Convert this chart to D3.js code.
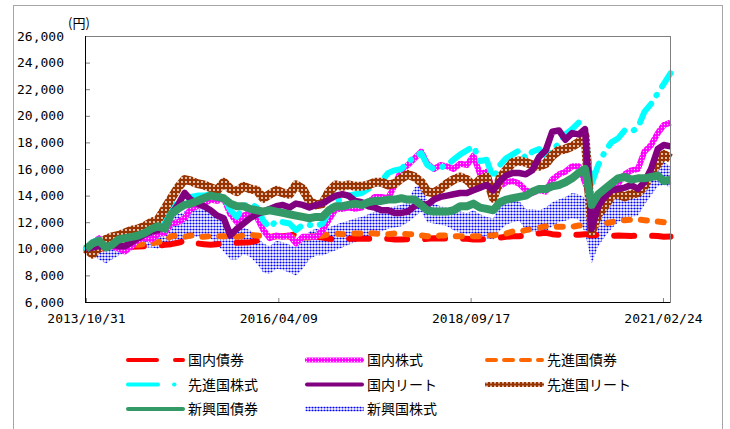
<!DOCTYPE html>
<html lang="ja">
<head>
<meta charset="UTF-8">
<title>基準価額の推移</title>
<style>
  body { margin: 0; background: #fff; }
  svg { display: block; }
  .axis text { font-family: "DejaVu Sans Mono", monospace; font-size: 13px; fill: #000; }
  .axis line { stroke: #808080; }
  .unit { font-family: "Noto Sans CJK JP", sans-serif; font-size: 13px; }
  .legend text { font-family: "Noto Sans CJK JP", sans-serif; font-size: 14px; fill: #000; }
</style>
</head>
<body>
<svg width="730" height="429"></svg>
<script src="https://d3js.org/d3.v7.min.js"></script>
<script>
// month-end values, 2013/10 .. 2021/03
const months = d3.range(90).map(i => new Date(2013, 10 + i, 0));
const xTickLabels = ["2013/10/31", "2016/04/09", "2018/09/17", "2021/02/24"];
const yTickValues = [6000, 8000, 10000, 12000, 14000, 16000, 18000, 20000, 22000, 24000, 26000];

// 国内債券
const jpBond = [10000, 10020, 10000, 10050, 10100, 10100, 10120, 10150, 10180, 10200, 10250, 10230,
  10300, 10350, 10450, 10600, 10400, 10400, 10350, 10300, 10350, 10400, 10400, 10450,
  10480, 10500, 10600, 10800, 10900, 10950, 10950, 11000, 11100, 11050, 10950, 10900,
  10850, 10750, 10700, 10700, 10750, 10750, 10750, 10750, 10750, 10750, 10750, 10700,
  10700, 10720, 10720, 10700, 10750, 10800, 10780, 10780, 10800, 10750, 10750, 10700,
  10700, 10750, 10800, 10850, 10900, 10950, 10950, 11000, 11100, 11150, 11200, 11100,
  11050, 11050, 11050, 11050, 11100, 11000, 11050, 11000, 10980, 11000, 10980, 10970,
  10980, 10980, 10980, 10960, 10900, 10920];
// 国内株式
const jpStock = [10000, 10400, 10800, 10300, 10200, 10000, 9800, 10200, 10700, 10800, 10700, 11100,
  11200, 11900, 12000, 12300, 13000, 13200, 13400, 13700, 13600, 13800, 12600, 12000,
  12500, 12700, 12400, 11400, 10800, 11000, 10900, 11000, 10400, 10900, 10900, 10900,
  11400, 12200, 13000, 13000, 13100, 13000, 13100, 13500, 13900, 13900, 13800, 14800,
  15900, 16300, 16800, 17300, 16400, 16000, 16300, 16200, 16000, 16400, 16300, 17000,
  15600, 15800, 14300, 14700, 15000, 15100, 14900, 14400, 14200, 14400, 14300, 15200,
  15600, 15800, 16200, 16200, 15000, 13400, 13900, 14400, 14900, 14900, 15600, 15900,
  16000, 17300, 17800, 18700, 19300, 19500];
// 先進国債券
const dmBond = [10000, 10150, 10200, 10150, 10200, 10250, 10250, 10300, 10300, 10350, 10400, 10500,
  10600, 10950, 11000, 10900, 11000, 10950, 10900, 10950, 10950, 10950, 10900, 10900,
  11000, 11050, 11000, 10950, 10900, 10950, 10950, 10900, 10800, 10850, 10850, 10900,
  11000, 11100, 11150, 11100, 11100, 11150, 11150, 11200, 11150, 11100, 11100, 11150,
  11150, 11100, 11100, 11000, 10950, 10900, 11000, 11000, 10950, 10950, 10950, 10950,
  10950, 11000, 11000, 11100, 11150, 11300, 11300, 11400, 11500, 11600, 11700, 11650,
  11650, 11650, 11650, 11750, 11800, 11700, 11800, 11900, 12000, 12100, 12150, 12200,
  12200, 12150, 12100, 12050, 12000, 11850];
// 先進国株式
const dmStock = [10000, 10500, 10700, 10400, 10600, 10800, 10900, 11200, 11400, 11500, 11600, 11900,
  12200, 13300, 13600, 13300, 13900, 14000, 14000, 14100, 14000, 13900, 12900, 12400,
  13200, 13400, 13100, 12100, 11600, 12100, 12000, 11900, 11400, 11800, 11800, 11700,
  11900, 12800, 13600, 13700, 14000, 14100, 14200, 14500, 14800, 15100, 15700, 15900,
  16000, 16500, 16900, 17200, 16300, 16000, 16100, 16300, 16700, 17100, 17400, 17700,
  16600, 16700, 15300, 16300, 16800, 17100, 17400, 16800, 17300, 17500, 17000, 17400,
  17900, 18600, 19000, 19500, 18800, 14900, 16300, 17300, 18000, 18300, 18900, 18800,
  19100, 20300, 20900, 21700, 22400, 23200];
// 国内リート
const jReit = [10000, 10100, 10200, 10200, 10300, 10200, 10200, 10500, 10800, 11100, 11300, 11400,
  11700, 12600, 13300, 14200, 13700, 13400, 13200, 12900, 12500, 12300, 11000, 11500,
  11900, 12300, 12600, 12800, 13000, 13200, 13300, 13100, 13400, 13300, 13100, 13300,
  13400, 13700, 14000, 14100, 14000, 13600, 13500, 13200, 13100, 12900, 12900, 12700,
  12700, 12800, 13200, 13400, 13300, 13700, 13900, 14000, 14100, 14200, 14200, 14400,
  14600, 14800, 14400, 15100, 15500, 15700, 15700, 15600, 15900, 16900, 17400, 18800,
  18900, 18200, 18700, 18600, 19000, 11500, 13200, 13900, 14400, 14500, 14600, 14800,
  14500, 15000, 16000, 17500, 17800, 17700];
// 先進国リート
const dmReit = [10000, 9600, 10100, 10700, 10900, 11000, 11200, 11400, 11500, 11700, 12000, 12200,
  13000, 13800, 14600, 15200, 15100, 14900, 14800, 14600, 14400, 15000, 14500, 14300,
  14700, 14500, 14400, 13800, 14100, 14400, 14200, 14100, 14800, 14500, 13600, 13300,
  13400, 14300, 14800, 14700, 14800, 14700, 14700, 14800, 15000, 15000, 14800, 14900,
  15300, 15600, 15400, 15000, 14300, 14200, 14500, 14900, 15200, 15400, 15200, 14700,
  15200, 15400, 13800, 15300, 15900, 16500, 16600, 16500, 16300, 16200, 16400, 17000,
  17400, 17500, 17700, 18000, 18500, 11300, 12600, 13200, 14000, 14100, 13900, 14100,
  14200, 14700, 15700, 16400, 17100, 16800];
// 新興国債券
const emBond = [10000, 10400, 10600, 10100, 10300, 10700, 10800, 10900, 11000, 11200, 11500, 11700,
  11500, 12600, 13000, 13300, 13400, 13600, 13800, 14000, 13900, 13800, 13400, 13200,
  13200, 13000, 12900, 12800, 12900, 12800, 12700, 12600, 12500, 12400, 12300, 12400,
  12400, 12900, 13200, 13200, 13300, 13400, 13300, 13500, 13600, 13600, 13700, 13700,
  13800, 13700, 13700, 13300, 12900, 12800, 12800, 12800, 12900, 13200, 13200, 13400,
  13100, 13000, 12900, 13500, 13700, 13800, 13900, 14000, 14300, 14500, 14500, 14700,
  14800, 15000, 15300, 15700, 16000, 13300, 14100, 14500, 14900, 15300, 15400, 15200,
  15300, 15300, 15400, 15500, 15100, 15200];
// 新興国株式 (monthly high / low of the daily swing)
const emStockHigh = [10300, 10400, 10200, 10000, 10200, 10500, 10800, 11000, 11300, 11700, 12000, 11800,
  12200, 12500, 12600, 12800, 12900, 13000, 13100, 13000, 12700, 12400, 11500, 11200,
  11600, 11400, 11000, 10400, 10200, 10600, 10500, 10300, 10100, 10700, 11300, 11500,
  11400, 11600, 11800, 12000, 12100, 12300, 12400, 12600, 12800, 13000, 13100, 13200,
  13300, 13600, 14600, 14900, 13600, 13400, 13200, 13100, 12900, 12800, 12700, 12900,
  12600, 12400, 12300, 13200, 13600, 13700, 13600, 13000, 13000, 12900, 13100, 13500,
  13700, 13900, 14200, 14100, 13800, 11500, 12600, 13100, 13500, 13800, 14000, 14100,
  14300, 15200, 16000, 16700, 16500, 16200];
const emStockLow = [9800, 9500, 9200, 8900, 9200, 9500, 9700, 9900, 10000, 10100, 10100, 10000,
  10400, 10500, 10500, 10700, 10800, 10900, 11000, 10800, 10300, 9800, 9200, 9200,
  9600, 9400, 8900, 8200, 8100, 8500, 8400, 8200, 8000, 8500, 9200, 9500,
  9500, 9700, 9900, 10100, 10300, 10500, 10700, 10800, 11100, 11300, 11500, 11600,
  11700, 12000, 12400, 12800, 12000, 11900, 11800, 11700, 11400, 11200, 11100, 11200,
  10900, 10800, 10700, 11400, 11800, 12000, 12100, 11400, 11300, 11200, 11300, 11700,
  12000, 12100, 12300, 12200, 11200, 8900, 10200, 10900, 11500, 12000, 12300, 12400,
  12500, 13300, 14000, 14700, 14800, 14600];

const svg = d3.select("svg");
const plotLeft = 86, plotRight = 670.5, plotTop = 36, plotBottom = 302;

const x = d3.scaleTime()
  .domain([new Date(2013, 9, 31), new Date(2021, 2, 31)])
  .range([plotLeft, plotRight]);
const y = d3.scaleLinear().domain([6000, 26000]).range([plotBottom, plotTop]);

// patterns for the textured lines
const defs = svg.append("defs");
function dotPattern(id, size, bg, dot, r) {
  const p = defs.append("pattern").attr("id", id)
    .attr("patternUnits", "userSpaceOnUse").attr("width", size).attr("height", size);
  p.append("rect").attr("width", size).attr("height", size).attr("fill", bg);
  p.append("circle").attr("cx", size / 2).attr("cy", size / 2).attr("r", r).attr("fill", dot);
}
dotPattern("brownPat", 4, "#993300", "#ffffff", 0.9);
dotPattern("pinkPat", 3, "#ff00ff", "#ffccff", 0.7);
dotPattern("bluePat", 3, "#ffffff", "#0000ff", 1.1);

// outer frame
svg.append("rect")
  .attr("x", 13.5).attr("y", 5.5).attr("width", 709).attr("height", 440)
  .attr("fill", "none").attr("stroke", "#a6a6a6");

// axes
const yAxis = svg.append("g").attr("class", "axis")
  .attr("transform", `translate(${plotLeft},0)`)
  .call(d3.axisLeft(y).tickValues(yTickValues).tickFormat(d3.format(","))
    .tickSizeInner(-4).tickSizeOuter(0).tickPadding(22));
yAxis.select(".domain").remove();

const parseDate = d3.timeParse("%Y/%m/%d");
const xAxis = svg.append("g").attr("class", "axis")
  .attr("transform", `translate(0,${plotBottom})`)
  .call(d3.axisBottom(x).tickValues(xTickLabels.map(parseDate))
    .tickFormat(d3.timeFormat("%Y/%m/%d"))
    .tickSizeInner(-4).tickSizeOuter(0).tickPadding(12));
xAxis.select(".domain").remove();

svg.append("text").attr("class", "unit")
  .attr("x", 68).attr("y", 28).text("(円)");

const line = vals => d3.line()
  .x((d, i) => x(months[i]))
  .y(d => y(d))(vals);

const plot = svg.append("g");

// 新興国株式 band
plot.append("path")
  .attr("d", d3.area()
    .x((d, i) => x(months[i]))
    .y0((d, i) => y(emStockLow[i]))
    .y1(d => y(d))(emStockHigh))
  .attr("fill", "url(#bluePat)");

const series = [
  { vals: jpBond, stroke: "#ff0000", width: 6, dash: "20,18", cap: "round" },
  { vals: dmBond, stroke: "#ff6600", width: 6, dash: "6,11", cap: "round" },
  { vals: jpStock, stroke: "url(#pinkPat)", width: 6 },
  { vals: dmStock, stroke: "#00ffff", width: 6, dash: "22,10,0.5,10", cap: "round" },
  { vals: dmReit, stroke: "url(#brownPat)", width: 9 },
  { vals: jReit, stroke: "#800080", width: 6.5 },
  { vals: emBond, stroke: "#339966", width: 8 }
];

series.forEach(s => {
  plot.append("path")
    .attr("d", line(s.vals))
    .attr("fill", "none")
    .attr("stroke", s.stroke)
    .attr("stroke-width", s.width)
    .attr("stroke-linejoin", "round")
    .attr("stroke-linecap", s.cap || "butt")
    .attr("stroke-dasharray", s.dash || null);
});

// plot frame
svg.append("line").attr("x1", plotLeft).attr("x2", plotRight).attr("y1", plotTop + 0.5).attr("y2", plotTop + 0.5)
  .attr("stroke", "#808080");
svg.append("line").attr("x1", plotRight).attr("x2", plotRight).attr("y1", plotTop).attr("y2", plotBottom)
  .attr("stroke", "#808080");
svg.append("line").attr("x1", plotLeft - 0.5).attr("x2", plotLeft - 0.5).attr("y1", plotTop).attr("y2", plotBottom + 1)
  .attr("stroke", "#000");
svg.append("line").attr("x1", plotLeft - 1).attr("x2", plotRight).attr("y1", plotBottom + 0.5).attr("y2", plotBottom + 0.5)
  .attr("stroke", "#000");

// legend
const legendItems = [
  { label: "国内債券", col: 0, row: 0, stroke: "#ff0000", dash: "29,18" },
  { label: "国内株式", col: 1, row: 0, fill: "url(#pinkPat)" },
  { label: "先進国債券", col: 2, row: 0, stroke: "#ff6600", dash: "9,8" },
  { label: "先進国株式", col: 0, row: 1, stroke: "#00ffff", dash: "30,16,0.5,30" },
  { label: "国内リート", col: 1, row: 1, stroke: "#800080" },
  { label: "先進国リート", col: 2, row: 1, fill: "url(#brownPat)" },
  { label: "新興国債券", col: 0, row: 2, stroke: "#339966" },
  { label: "新興国株式", col: 1, row: 2, fill: "url(#bluePat)" }
];
const colX = [126, 305, 485];
const rowY = [360, 384.5, 409];

const legend = svg.append("g").attr("class", "legend");
legendItems.forEach(d => {
  const g = legend.append("g").attr("transform", `translate(${colX[d.col]},${rowY[d.row]})`);
  if (d.fill) {
    g.append("rect")
      .attr("x", 0).attr("y", -2.5).attr("width", 59).attr("height", 5)
      .attr("rx", 2).attr("fill", d.fill);
  } else {
    g.append("line")
      .attr("x1", 2).attr("x2", 57).attr("y1", 0).attr("y2", 0)
      .attr("stroke", d.stroke).attr("stroke-width", 4)
      .attr("stroke-linecap", "round")
      .attr("stroke-dasharray", d.dash || null);
  }
  g.append("text").attr("x", 62).attr("y", 0).attr("dy", "0.36em").text(d.label);
});
</script>
</body>
</html>
